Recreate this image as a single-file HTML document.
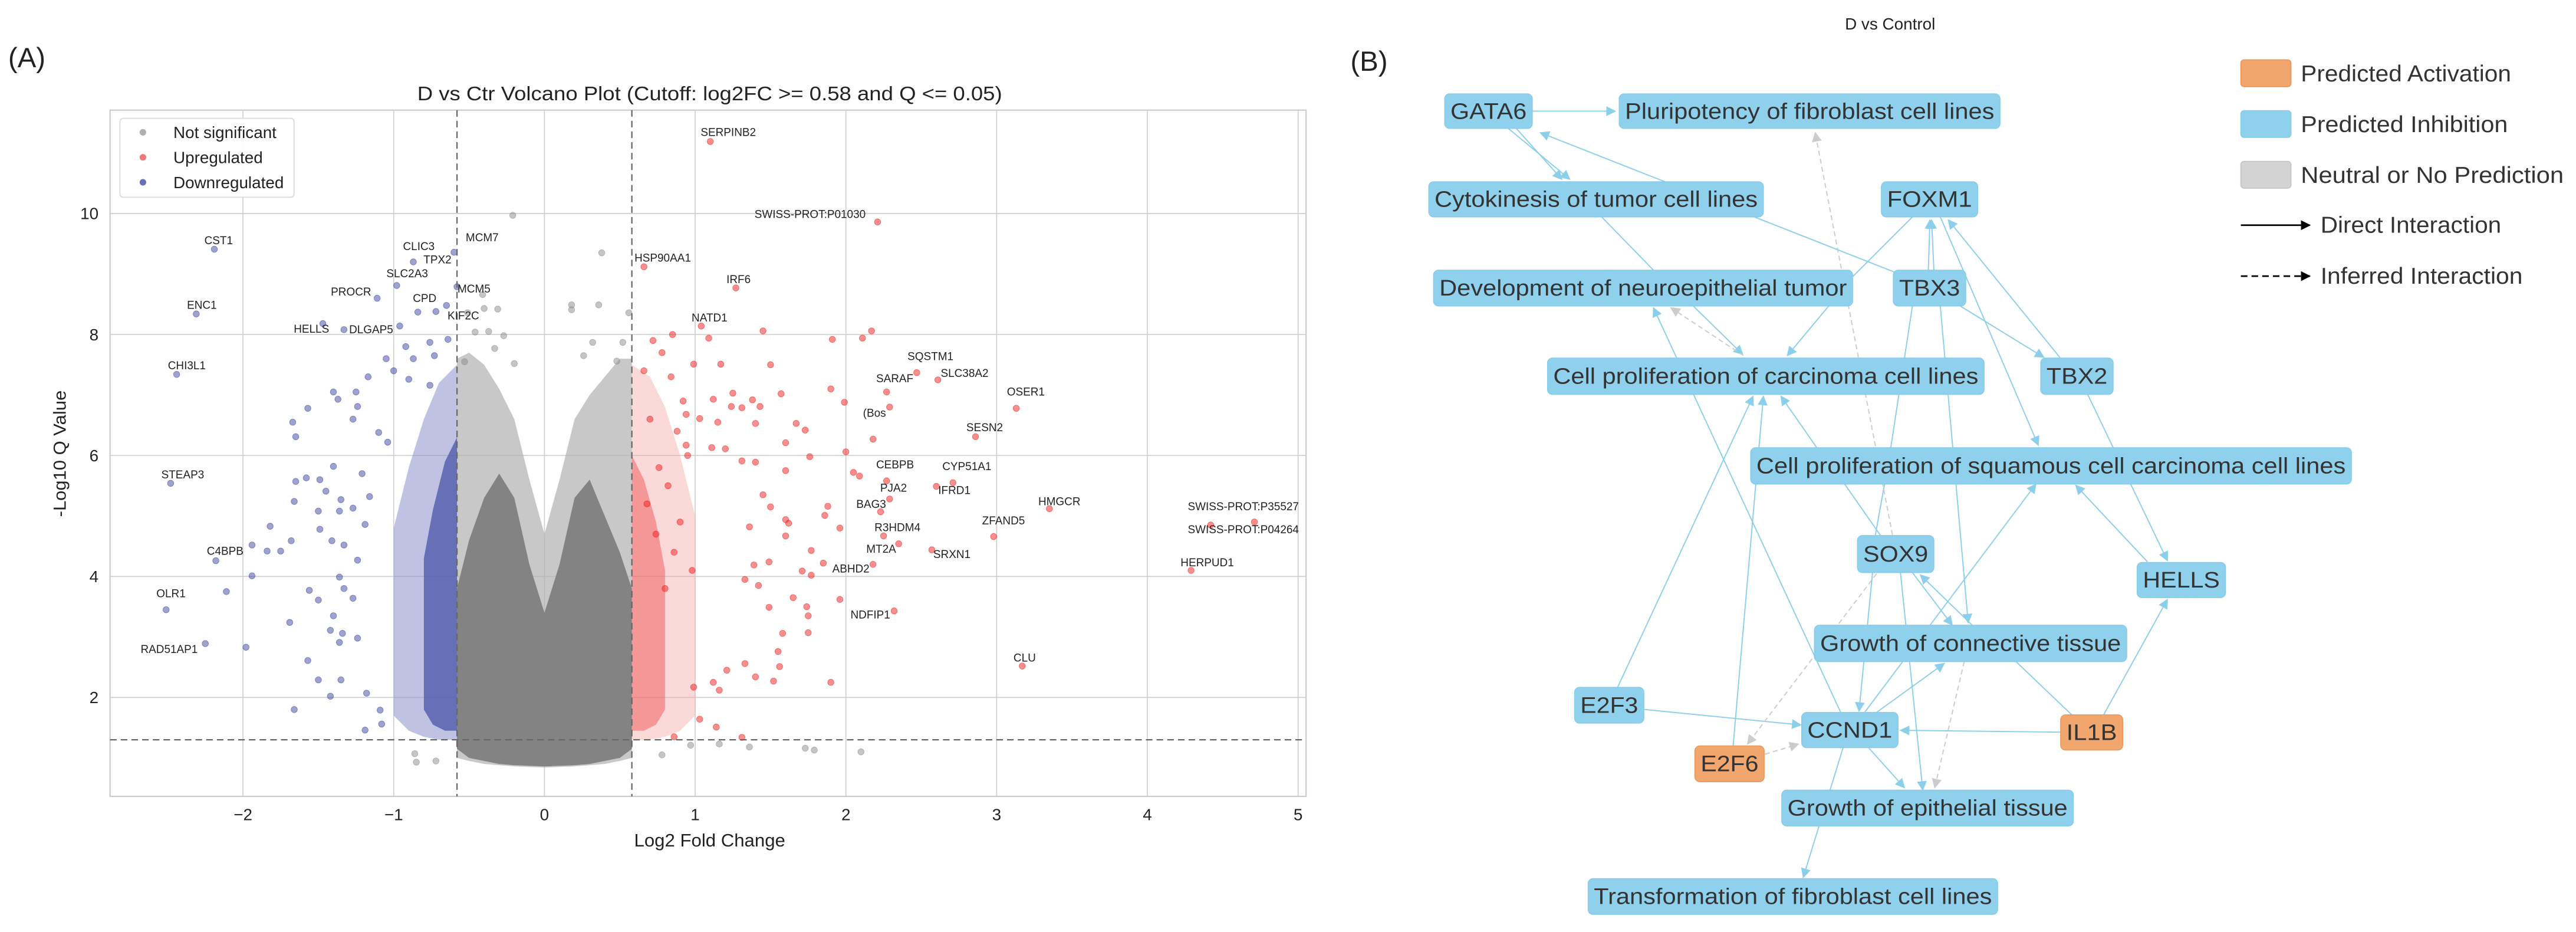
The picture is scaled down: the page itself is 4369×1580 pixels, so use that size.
<!DOCTYPE html>
<html><head><meta charset="utf-8"><style>
html,body{margin:0;padding:0;background:#fff;}
svg{display:block;}
.t{font-family:"Liberation Sans Narrow","Liberation Sans",sans-serif;fill:#222;}
.n{font-family:"Liberation Sans Narrow","Liberation Sans",sans-serif;fill:#333;}
</style></head><body>
<svg id="fig" width="4369" height="1580" viewBox="0 0 1568 567" preserveAspectRatio="none" xmlns="http://www.w3.org/2000/svg">
<rect x="0" y="0" width="1568" height="567" fill="#fff"/>
<g id="panelA"></g>
<g id="panelB"></g>
</svg>
<script>
// ===== Volcano data =====
const xTicks=[-2,-1,0,1,2,3,4,5];
const yTicks=[2,4,6,8,10];
const grayHaloX=[-0.58,-0.5,-0.4,-0.3,-0.2,-0.1,0,0.1,0.2,0.3,0.4,0.5,0.58];
const grayHaloTop=[7.6,7.7,7.5,7.1,6.6,5.6,4.7,5.6,6.6,7.0,7.3,7.6,7.6];
const grayHaloBot=[1.0,0.95,0.9,0.88,0.86,0.85,0.84,0.85,0.86,0.88,0.9,0.95,1.0];
const grayCoreTop=[3.8,4.6,5.3,5.7,5.3,4.2,3.4,4.2,5.3,5.6,5.0,4.4,3.8];
const grayCoreBot=[1.15,1.0,0.95,0.9,0.88,0.87,0.86,0.87,0.88,0.9,0.95,1.0,1.15];
const blueOuterX=[-0.58,-0.7,-0.8,-0.9,-1.0];
const blueOuterTop=[7.5,7.2,6.6,5.8,4.8];
const blueOuterBot=[1.3,1.3,1.35,1.45,1.7];
const blueInnerX=[-0.58,-0.66,-0.74,-0.8];
const blueInnerTop=[6.3,5.9,5.1,4.3];
const blueInnerBot=[1.45,1.45,1.55,1.8];
const redOuterX=[0.58,0.7,0.8,0.9,1.0];
const redOuterTop=[7.5,7.3,6.8,6.0,5.0];
const redOuterBot=[1.3,1.3,1.35,1.45,1.7];
const redInnerX=[0.58,0.66,0.74,0.8];
const redInnerTop=[6.0,5.6,4.9,4.1];
const redInnerBot=[1.45,1.45,1.55,1.8];
const downX=[-1.67,-1.57,-1.65,-1.40,-1.25,-1.17,-1.37,-1.24,-1.27,-1.10,-1.04,-1.40,-1.21,-1.58,-1.65,-1.49,-1.45,-1.66,-1.35,-1.16,-1.50,-1.36,-1.27,-1.19,-1.82,-1.68,-1.94,-1.84,-1.75,-1.49,-1.41,-1.33,-1.24,-1.36,-1.94,-2.11,-1.56,-1.50,-1.33,-1.27,-1.69,-1.40,-1.34,-1.24,-1.42,-1.36,-1.98,-1.57,-1.50,-1.35,-1.42,-1.18,-1.66,-1.19,-1.09,-1.08,-1.05,-0.92,-0.76,-0.64,-0.87,-0.73,-1.00,-0.90,-0.76,
 -2.19,-2.31,-2.44,-2.48,-2.18,-2.51,-2.25,-0.60,-0.87,-0.98,-1.11,-0.84,-0.72,-0.65,-0.58,-1.47,-1.33,-0.96];
const downY=[6.55,6.78,6.31,7.05,7.05,7.30,6.93,6.81,6.60,6.38,6.22,5.82,5.70,5.63,5.57,5.60,5.41,5.24,5.27,5.32,5.08,5.08,5.13,4.86,4.83,4.59,4.52,4.42,4.42,4.78,4.59,4.52,4.27,3.99,4.01,3.75,3.77,3.61,3.80,3.64,3.24,3.35,3.06,2.98,3.11,2.91,2.83,2.61,2.29,2.29,2.02,2.07,1.80,1.46,1.79,1.56,7.60,7.80,7.87,7.92,7.60,7.65,7.40,7.26,7.16,
 9.41,8.34,7.34,5.54,4.26,3.45,2.89,9.36,9.20,8.81,8.60,8.37,8.38,8.48,8.79,8.18,8.08,8.14];
const upX=[0.85,1.09,1.45,1.91,2.11,2.17,0.99,1.17,1.50,1.90,1.99,1.57,1.25,1.12,1.38,1.31,1.43,1.24,0.94,1.03,1.15,1.40,1.67,1.73,1.60,1.76,2.00,2.18,0.94,1.11,1.20,1.31,1.40,1.60,2.05,2.09,1.45,1.50,1.60,1.88,1.86,1.62,1.96,1.36,1.60,1.77,1.71,1.77,1.85,1.49,1.39,1.33,1.42,1.49,1.65,1.74,1.75,1.96,1.58,1.75,1.55,1.33,1.40,1.56,1.52,1.90,1.21,1.12,1.16,0.99,1.03,1.14,1.31,0.86,
 1.10,2.21,0.66,1.27,1.04,2.47,2.61,2.27,3.13,2.29,2.86,2.27,2.71,2.60,2.29,2.23,3.35,2.98,2.25,2.35,2.57,2.18,2.32,3.17,4.71,4.42,4.29,
 0.72,0.78,0.66,0.84,0.92,0.70,0.88,0.95,0.76,0.82,0.68,0.90,0.74,0.86,0.98,0.80];
const upY=[8.00,7.94,8.06,7.92,7.94,8.06,7.51,7.51,7.50,7.10,6.88,7.02,7.03,6.93,6.92,6.79,6.81,6.81,6.68,6.61,6.55,6.53,6.53,6.42,6.21,5.98,6.06,6.27,6.17,6.13,6.11,5.91,5.89,5.75,5.72,5.66,5.35,5.15,4.94,5.16,5.01,4.88,4.80,4.82,4.67,4.43,4.09,4.02,4.22,4.24,4.19,3.95,3.85,3.49,3.65,3.50,3.35,3.62,3.06,3.07,2.76,2.56,2.34,2.51,2.27,2.25,2.45,2.25,2.12,2.17,1.64,1.51,1.34,1.35,
 11.19,9.86,9.12,8.77,8.14,7.37,7.25,7.05,6.78,6.80,6.31,5.58,5.55,5.49,5.28,5.07,5.12,4.66,4.67,4.54,4.44,4.20,3.43,2.52,4.90,4.85,4.10,
 7.90,7.70,7.40,7.30,6.90,6.60,6.40,6.00,5.80,5.50,5.20,4.90,4.70,4.40,4.10,3.80];
const nsX=[-0.21,0.38,0.18,0.36,0.18,0.56,-0.41,-0.40,-0.31,-0.51,-0.46,-0.37,-0.27,0.32,0.52,0.26,0.48,-0.53,-0.33,-0.20,0.78,0.97,1.36,1.73,1.79,2.10,-0.86,-0.72,-0.85,1.16];
const nsY=[9.97,9.35,8.49,8.49,8.41,8.36,8.66,8.43,8.42,8.36,8.04,8.05,7.98,7.87,7.87,7.65,7.56,7.55,7.77,7.52,1.05,1.21,1.18,1.16,1.13,1.10,1.07,0.95,0.93,1.23];
const geneNames=["SERPINB2","SWISS-PROT:P01030","HSP90AA1","IRF6","NATD1","MCM7","CLIC3","TPX2","SLC2A3","PROCR","CPD","KIF2C","MCM5","HELLS","DLGAP5","CST1","ENC1","CHI3L1","STEAP3","C4BPB","OLR1","RAD51AP1","SQSTM1","SLC38A2","SARAF","OSER1","(Bos","SESN2","CEBPB","CYP51A1","IFRD1","PJA2","BAG3","HMGCR","ZFAND5","R3HDM4","MT2A","SRXN1","ABHD2","NDFIP1","CLU","SWISS-PROT:P35527","SWISS-PROT:P04264","HERPUD1"];
// label layout (text left x, text centre y in overview px) — layout only
const labelPos=[[426.5,80.4],[459.3,130.2],[386.2,156.7],[442.2,169.8],[421,193.1],[283.5,144.3],[245.3,149.8],[257.8,157.8],[235.2,166.2],[201.4,177.4],[251.3,181.4],[272.4,192],[278.5,175.6],[178.8,200],[212.5,200.3],[124.4,146.2],[113.8,185.4],[102.2,222.2],[98.2,288.7],[125.9,335.2],[95.2,361],[85.6,394.9],[552.4,216.7],[572.6,226.9],[533.3,230.2],[612.9,238.2],[525.3,251.2],[588.2,260],[533.3,282.5],[573.6,283.6],[571.1,298.2],[535.8,296.7],[521.2,306.5],[632,305],[597.8,316.7],[532.3,320.7],[527.3,333.8],[568.1,337.1],[506.6,345.8],[517.7,373.8],[616.9,400],[723,308],[723,322],[718.6,342.1]];

const sx=v=>331.4+v*91.75, sy=v=>497.9-v*36.8;
const NS='http://www.w3.org/2000/svg';
function mk(tag,attrs,parent,txt){const e=document.createElementNS(NS,tag);for(const k in attrs)e.setAttribute(k,attrs[k]);if(txt!==undefined)e.textContent=txt;parent.appendChild(e);return e;}
const A=document.getElementById('panelA');
const FL=67,FR=795,FT=67,FB=484.5;

let lab=mk('text',{x:5,y:41,'font-size':17,class:'t'},A,'(A)');


let tt=mk('text',{x:432,y:61,'font-size':12,'text-anchor':'middle',class:'t',textLength:356,lengthAdjust:'spacingAndGlyphs'},A,'D vs Ctr Volcano Plot (Cutoff: log2FC >= 0.58 and Q <= 0.05)');



xTicks.forEach(v=>{
 const g=mk('line',{x1:sx(v),x2:sx(v),y1:FT,y2:FB,stroke:'#cfcfcf','stroke-width':0.6},A);
 
 
 const t=mk('text',{x:sx(v),y:499,'font-size':10,'text-anchor':'middle',class:'t'},A,v<0?'\u2212'+(-v):String(v));
 
 
});
yTicks.forEach(v=>{
 const g=mk('line',{x1:FL,x2:FR,y1:sy(v),y2:sy(v),stroke:'#cfcfcf','stroke-width':0.6},A);
 
 
 const t=mk('text',{x:60,y:sy(v)+3.5,'font-size':10,'text-anchor':'end',class:'t'},A,String(v));
 
 
});
let fr=mk('rect',{x:FL,y:FT,width:FR-FL,height:FB-FT,fill:'none',stroke:'#cccccc','stroke-width':0.8},A);



function band(xs,top,bot,fill,op,name){
 let pts=xs.map((x,i)=>sx(x)+','+sy(top[i]));
 for(let i=xs.length-1;i>=0;i--)pts.push(sx(xs[i])+','+sy(bot[i]));
 const p=mk('polygon',{points:pts.join(' '),fill:fill,'fill-opacity':op,stroke:'none'},A);
 
 
}
band(grayHaloX,grayHaloTop,grayHaloBot,'#b0b0b0',0.7,'not-significant-cloud');
band(grayHaloX,grayCoreTop,grayCoreBot,'#808080',0.95,'not-significant-core');
band(blueOuterX,blueOuterTop,blueOuterBot,'#8a8fcb',0.55,'downregulated-cloud');
band(blueInnerX,blueInnerTop,blueInnerBot,'#4a54a8',0.75,'downregulated-core');
band(redOuterX,redOuterTop,redOuterBot,'#f4a0a0',0.4,'upregulated-cloud');
band(redInnerX,redInnerTop,redInnerBot,'#f05555',0.5,'upregulated-core');

function pts(xs,ys,fill,name){
 xs.forEach((x,i)=>{
  const c=mk('circle',{cx:sx(x),cy:sy(ys[i]),r:1.9,fill:fill,'fill-opacity':0.5,stroke:fill,'stroke-opacity':0.6,'stroke-width':0.3},A);
  
  
 });
}
pts(nsX,nsY,'#8c8c8c','point-not-significant');
pts(downX,downY,'#3d45a0','point-downregulated');
pts(upX,upY,'#f22020','point-upregulated');

[-0.58,0.58].forEach(v=>{
 const l=mk('line',{x1:sx(v),x2:sx(v),y1:FT,y2:FB,stroke:'#666','stroke-width':0.8,'stroke-dasharray':'4,2.5'},A);
 
 
});
let hl=mk('line',{x1:FL,x2:FR,y1:sy(1.3),y2:sy(1.3),stroke:'#666','stroke-width':0.8,'stroke-dasharray':'4,2.5'},A);



geneNames.forEach((n,i)=>{
 const t=mk('text',{x:labelPos[i][0],y:labelPos[i][1]+2.4,'font-size':6.8,class:'t'},A,n);
 
 
});

let xl=mk('text',{x:432,y:515,'font-size':11,'text-anchor':'middle',class:'t',textLength:92,lengthAdjust:'spacingAndGlyphs'},A,'Log2 Fold Change');


let yl=mk('text',{x:0,y:0,'font-size':10.5,'text-anchor':'middle',class:'t',transform:'translate(40,276) rotate(-90)',textLength:77,lengthAdjust:'spacingAndGlyphs'},A,'-Log10 Q Value');



const lg=mk('g',{},A);


mk('rect',{x:73,y:72,width:106,height:48,rx:2,fill:'#fff','fill-opacity':0.9,stroke:'#dddddd','stroke-width':0.7},lg);
const legNames=['Not significant','Upregulated','Downregulated'];
const legCols=['#b0b0b0','#f07878','#6a70b8'];
legNames.forEach((n,i)=>{
 const c=mk('circle',{cx:87,cy:80.5+15.2*i,r:2,fill:legCols[i]},lg);
 
 
 const t=mk('text',{x:105.5,y:84+15.2*i,'font-size':10,class:'t'},lg,n);
 
 
});

// ===== Network panel =====
const B=document.getElementById('panelB');
const ox=x=>807.6+x*0.485, oy=y=>y*0.3636;
const EC='#8ccfea';
const defs=mk('defs',{},B);
function marker(id,col){const m=mk('marker',{id:id,viewBox:'0 0 10 10',refX:9,refY:5,markerWidth:7,markerHeight:6,orient:'auto',markerUnits:'userSpaceOnUse'},defs);mk('path',{d:'M0,0 L10,5 L0,10 z',fill:col},m);}
marker('ab',EC);marker('ag','#cccccc');marker('ak','#000');

const edges=[
[258,186,362,186,1,0],[228,215,305,300,1,0],[238,215,295,300,1,0],[712,455,268,222,1,0],
[345,363,410,452,0,0],[735,363,660,463,0,0],[630,512,578,595,1,0],[460,512,522,593,1,0],
[523,595,432,515,1,1],[645,1192,410,515,1,0],[755,452,757,368,1,0],[762,452,759,368,1,0],
[735,512,702,800,0,0],[700,810,680,958,0,0],[770,512,805,1042,1,0],[770,363,893,745,1,0],[920,598,780,368,1,0],
[795,512,900,598,1,0],[955,660,1055,938,1,0],[1030,940,940,812,1,0],[975,1196,1055,1003,1,0],
[921,1225,720,1222,1,0],[935,1196,865,1107,0,0],[398,1187,595,1213,1,0],[365,1150,535,663,1,0],
[510,1248,548,663,1,0],[550,1262,592,1245,1,1],[690,960,528,1245,1,1],[615,749,570,663,1,0],
[695,896,650,810,0,0],[710,895,613,222,1,1],[735,958,785,1046,1,0],[810,1046,745,962,1,0],
[720,958,748,1322,1,0],[675,1192,890,810,1,0],[690,1192,775,1110,1,0],[680,1251,725,1318,1,0],
[800,1107,763,1318,1,1],[648,1251,598,1468,1,0],[685,958,668,1190,1,0]];
edges.forEach(e=>{
 const l=mk('line',{x1:ox(e[0]),y1:oy(e[1]),x2:ox(e[2]),y2:oy(e[3]),stroke:e[5]?'#cccccc':EC,'stroke-width':0.7},B);
 if(e[5])l.setAttribute('stroke-dasharray','3,2');
 if(e[4])l.setAttribute('marker-end',e[5]?'url(#ag)':'url(#ab)');
 
 
});

const nodes=[
['GATA6',148,258,157,215,0],['Pluripotency of fibroblast cell lines',367,845,157,215,0],
['Cytokinesis of tumor cell lines',128,548,304,363,0],['FOXM1',696,817,304,363,0],
['Development of neuroepithelial tumor',134,660,452,512,0],['TBX3',711,802,452,512,0],
['Cell proliferation of carcinoma cell lines',277,825,599,660,0],['TBX2',896,987,599,660,0],
['Cell proliferation of squamous cell carcinoma cell lines',532,1286,749,810,0],['SOX9',666,762,896,958,0],
['HELLS',1017,1128,941,1000,0],['Growth of connective tissue',612,1004,1046,1107,0],
['E2F3',311,398,1150,1210,0],['CCND1',596,717,1192,1251,0],['IL1B',921,999,1196,1255,1],
['E2F6',462,549,1248,1308,1],['Growth of epithelial tissue',571,937,1322,1382,0],
['Transformation of fibroblast cell lines',328,842,1470,1530,0]];
nodes.forEach(n=>{
 const g=mk('g',{},B);
 
 
 const x1=ox(n[1]),x2=ox(n[2]),y1=oy(n[3]),y2=oy(n[4]);
 mk('rect',{x:x1,y:y1,width:x2-x1,height:y2-y1,rx:3,fill:n[5]?'#f0a66c':'#8fd1ec',stroke:n[5]?'#e8955a':'#86cbe8','stroke-width':0.5},g);
 const w=x2-x1-7;
 mk('text',{x:(x1+x2)/2,y:(y1+y2)/2+4.6,'font-size':13.5,'text-anchor':'middle',class:'n',textLength:w,lengthAdjust:'spacingAndGlyphs'},g,n[0]);
});

let tb=mk('text',{x:1150.5,y:18,'font-size':10,'text-anchor':'middle',class:'t',textLength:55,lengthAdjust:'spacingAndGlyphs'},B,'D vs Control');


let lb=mk('text',{x:822,y:43,'font-size':17,class:'t'},B,'(B)');



const L=mk('g',{},B);


const swNames=['Predicted Activation','Predicted Inhibition','Neutral or No Prediction'];
const swCols=['#f0a66c','#8fd1ec','#d3d3d3'];
const swStroke=['#e8955a','#86cbe8','#c4c4c4'];
const swLen=[128,126,160];
swNames.forEach((n,i)=>{
 const r=mk('rect',{x:1364,y:36.4+30.9*i,width:30.5,height:16.3,rx:2,fill:swCols[i],stroke:swStroke[i],'stroke-width':0.6},L);
 
 
 const t=mk('text',{x:1400.5,y:49.5+30.9*i,'font-size':14,class:'n',textLength:swLen[i],lengthAdjust:'spacingAndGlyphs'},L,n);
 
 
});
const arrNames=['Direct Interaction','Inferred Interaction'];
const arrLen=[110,123];
arrNames.forEach((n,i)=>{
 const y=137+31*i;
 const l=mk('line',{x1:1364,y1:y,x2:1406,y2:y,stroke:'#000','stroke-width':1,'marker-end':'url(#ak)'},L);
 if(i)l.setAttribute('stroke-dasharray','4,2.5');
 
 
 const t=mk('text',{x:1412.5,y:y+4.6,'font-size':14,class:'n',textLength:arrLen[i],lengthAdjust:'spacingAndGlyphs'},L,n);
 
 
});
</script>
</body></html>
